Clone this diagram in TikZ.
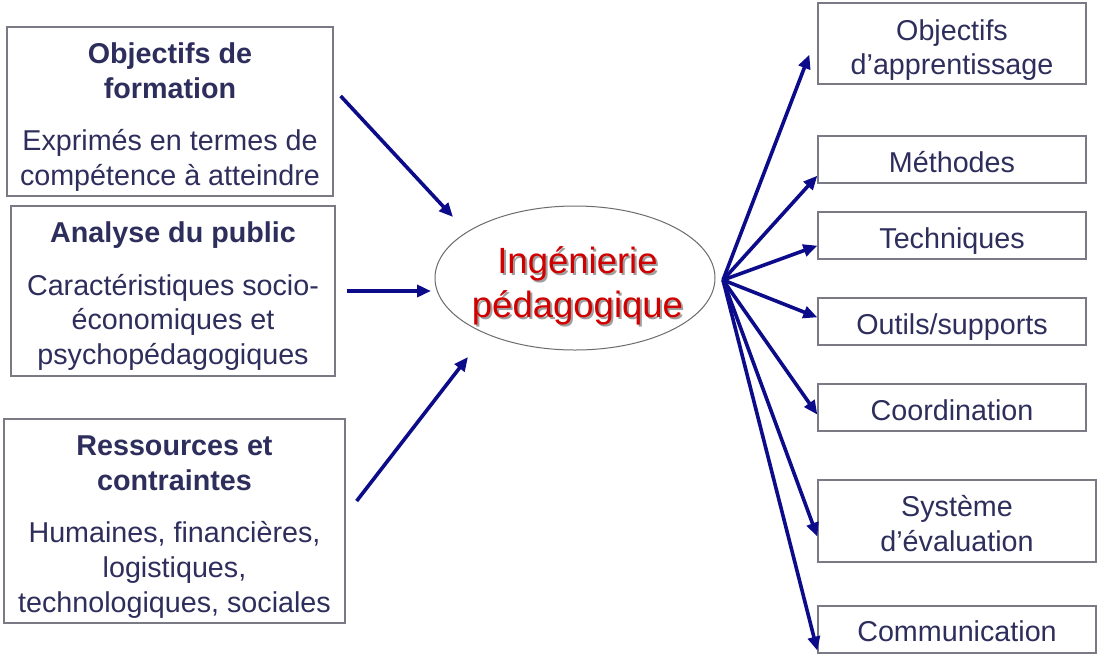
\documentclass[tikz,border=0pt]{standalone}
\usepackage{fontspec}
\setmainfont{Liberation Sans}
\usetikzlibrary{arrows.meta,shapes.geometric,calc}
\definecolor{txt}{HTML}{2E2E5C}
\definecolor{arr}{HTML}{0C0C8A}
\definecolor{bord}{HTML}{7A7A84}
\definecolor{redt}{HTML}{D00000}
\begin{document}
\begin{tikzpicture}[x=1pt,y=-1pt,
  box/.style={draw=bord, line width=1.3pt, fill=white, rectangle, inner sep=0pt},
  btxt/.style={align=center, text=txt, inner sep=0pt, font=\fontsize{28.7}{34.8}\selectfont},
  link/.style={draw=arr, line width=3.6pt, -{Triangle[length=14pt,width=12pt]}},
  bigtxt/.style={align=center, font=\fontsize{36.5}{44}\selectfont, inner sep=0pt}]
\useasboundingbox[fill=white] (0,0) rectangle (1100,665);

% left boxes
\node[box, minimum width=326pt, minimum height=169pt] (l1) at (170,111.5) {};
\node[btxt, yshift=-5.5pt] (l1t) at (l1.center)
  {\textbf{Objectifs de}\\\textbf{formation}\\[18pt]Exprimés en termes de\\compétence à atteindre};
\node[box, minimum width=324pt, minimum height=170pt] (l2) at (173,291) {};
\node[btxt, yshift=-5pt] (l2t) at (l2.center)
  {\textbf{Analyse du public}\\[18pt]Caractéristiques socio-\\économiques et\\psychopédagogiques};
\node[box, minimum width=341pt, minimum height=204pt] (l3) at (174.5,521) {};
\node[btxt, yshift=-6pt] (l3t) at (l3.center)
  {\textbf{Ressources et}\\\textbf{contraintes}\\[18pt]Humaines, financières,\\logistiques,\\technologiques, sociales};

% central ellipse
\node[ellipse, draw=gray!85!black, line width=1pt, minimum width=280pt, minimum height=144pt, inner sep=0pt] (ell) at (575,278) {};
\node[bigtxt, text=gray!75] (ingsh) at (579.5,287.5) {Ingénierie\\pédagogique};
\node[bigtxt, text=redt] (ing) at (577.5,285.5) {Ingénierie\\pédagogique};

% right boxes
\node[box, minimum width=268pt, minimum height=81pt] (r1) at (952,43.5) {};
\node[btxt, yshift=-6.5pt] (r1t) at (r1.center) {Objectifs\\d’apprentissage};
\node[box, minimum width=268pt, minimum height=47pt] (r2) at (952,159.5) {};
\node[btxt, yshift=-3pt] (r2t) at (r2.center) {Méthodes};
\node[box, minimum width=268pt, minimum height=47pt] (r3) at (952,235.5) {};
\node[btxt, yshift=-5.5pt] (r3t) at (r3.center) {Techniques};
\node[box, minimum width=268pt, minimum height=47pt] (r4) at (952,321.5) {};
\node[btxt, yshift=-5.5pt] (r4t) at (r4.center) {Outils/supports};
\node[box, minimum width=268pt, minimum height=47pt] (r5) at (952,407.5) {};
\node[btxt, yshift=-3pt] (r5t) at (r5.center) {Coordination};
\node[box, minimum width=278pt, minimum height=82pt] (r6) at (957,521) {};
\node[btxt, yshift=-2.5pt] (r6t) at (r6.center) {Système\\d’évaluation};
\node[box, minimum width=278pt, minimum height=47pt] (r7) at (957,629.5) {};
\node[btxt, yshift=-2pt] (r7t) at (r7.center) {Communication};

% left arrows
\coordinate (s1) at ([xshift=7pt]l1.east |- 0,96);
\coordinate (t1) at (453,217);
\coordinate (s2) at ([xshift=11pt]l2.east |- 0,291);
\coordinate (t2) at (431,291);
\coordinate (s3) at ([xshift=11pt]l3.east |- 0,501);
\coordinate (t3) at (468,357);
\draw[link] (s1) -- (t1);
\draw[link] (s2) -- (t2);
\draw[link] (s3) -- (t3);

% right arrows
\coordinate (hub) at (723,280);
\draw[link] (hub) -- ([xshift=-8pt,yshift=30pt]r1.south west);
\draw[link] (hub) -- ([yshift=8pt]r2.south west);
\draw[link] (hub) -- ([yshift=14pt]r3.south west);
\draw[link] (hub) -- ([yshift=-20pt]r4.north west);
\draw[link] (hub) -- ([yshift=17pt]r5.south west);
\draw[link] (hub) -- ([yshift=26pt]r6.south west);
\draw[link] (hub) -- ([yshift=3pt]r7.south west);
\end{tikzpicture}
\end{document}
